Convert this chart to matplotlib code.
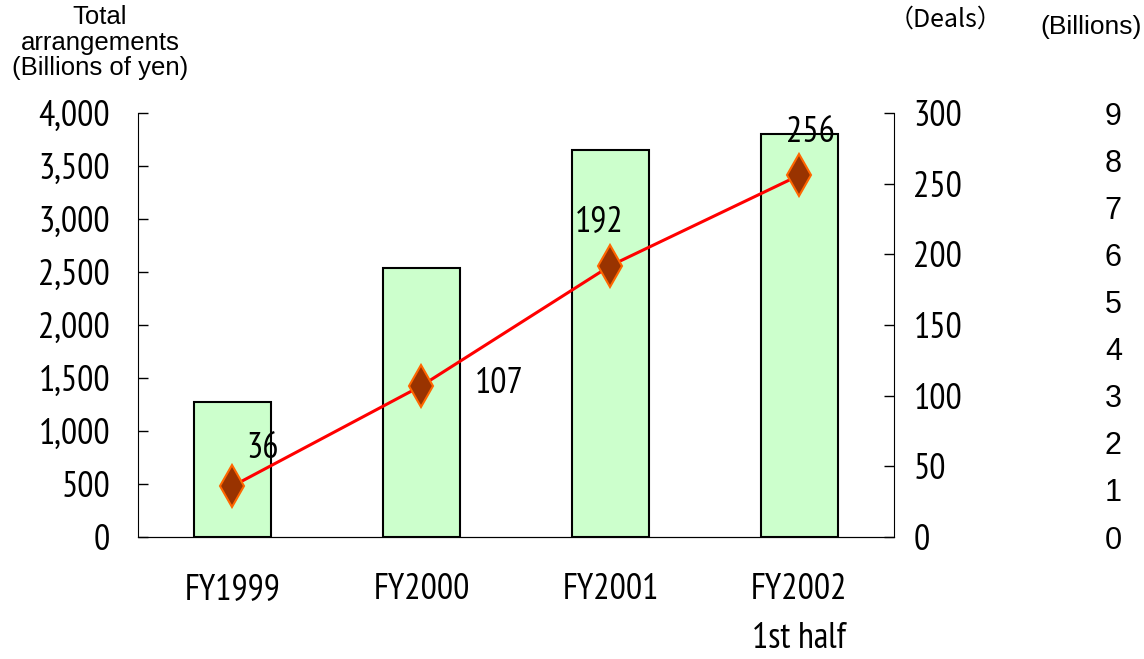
import matplotlib
matplotlib.use("Agg")
import matplotlib.pyplot as plt
import numpy as np

# data
categories = ["FY1999", "FY2000", "FY2001", "FY2002\n1st half"]
arrangements = [1270, 2540, 3650, 3800]   # billions of yen (bars, left axis)
deals = [36, 107, 192, 256]               # deals (line, right axis)
left_ticks = [0, 500, 1000, 1500, 2000, 2500, 3000, 3500, 4000]
right_ticks = [0, 50, 100, 150, 200, 250, 300]
far_ticks = list(range(0, 10))

NARROW = ["PT Sans Narrow", "Liberation Sans Narrow", "DejaVu Sans"]
PLAIN = ["Liberation Sans", "DejaVu Sans"]
NSIZE = 26

fig = plt.figure(figsize=(11.44, 6.59), dpi=100)
ax = fig.add_axes([0.1206, 0.1851, 0.6608, 0.6434])

x = np.arange(len(categories))
ax.bar(x, arrangements, width=0.41, color="#CCFFCC", edgecolor="black", linewidth=1.5, zorder=2)
ax.set_xlim(-0.5, 3.5)
ax.set_ylim(0, 4000)
ax.set_yticks(left_ticks)
ax.set_yticklabels(["{:,}".format(v) for v in left_ticks], family=NARROW, fontsize=NSIZE)
ax.tick_params(axis="y", direction="in", length=7, pad=20, width=1)
ax.set_xticks(x)
ax.set_xticklabels(categories, family=NARROW, fontsize=NSIZE, linespacing=1.6, va="top")
ax.tick_params(axis="x", length=0, pad=26)
ax.spines["top"].set_visible(False)
ax.spines["right"].set_visible(False)

ax2 = ax.twinx()
ax2.plot(x, deals, color="#FF0000", linewidth=2.2, marker="d", markersize=21,
         markerfacecolor="#993300", markeredgecolor="#FF6600", markeredgewidth=1.5, zorder=3)
ax2.set_ylim(0, 300)
ax2.set_yticks(right_ticks)
ax2.set_yticklabels([str(v) for v in right_ticks], family=NARROW, fontsize=NSIZE)
ax2.tick_params(axis="y", direction="in", length=7, pad=14, width=1)
ax2.spines["top"].set_visible(False)
ax2.spines["left"].set_visible(False)

# point labels
offsets = [(22, 27), (56, 2), (-8, 32), (8, 31)]
for xi, d, off in zip(x, deals, offsets):
    ax2.annotate(str(d), (xi, d), xytext=off, textcoords="offset points",
                 ha="center", va="center", family=NARROW, fontsize=NSIZE)

# third scale on the far right (no spine)
ax3 = ax.twinx()
ax3.spines["right"].set_position(("axes", 1.2790))
for s in ax3.spines.values():
    s.set_visible(False)
ax3.set_ylim(0, 9)
ax3.set_yticks(far_ticks)
ax3.set_yticklabels([str(v) for v in far_ticks], family=PLAIN, fontsize=22)
ax3.tick_params(axis="y", length=0, pad=0)

fig.text(100 / 1144, 1 - 5 / 659, "Total\narrangements\n(Billions of yen)",
         ha="center", va="top", family=PLAIN, fontsize=18.5, linespacing=1.08)
fig.text(945 / 1144, 1 - 20 / 659, "\uff08Deals\uff09", ha="center", va="center",
         family=["Noto Sans CJK JP", "DejaVu Sans"], fontsize=18)
fig.text(1091 / 1144, 1 - 27 / 659, "(Billions)", ha="center", va="center",
         family=PLAIN, fontsize=19)

fig.savefig("out.png", dpi=100)
